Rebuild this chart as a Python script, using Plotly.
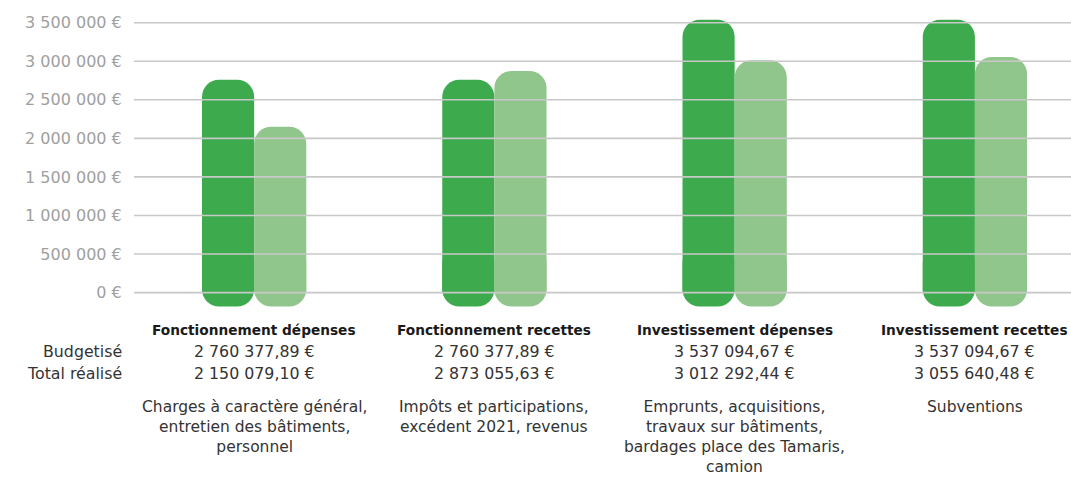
import plotly.graph_objects as go

# ---- data ----
categories = ["Fonctionnement dépenses", "Fonctionnement recettes",
              "Investissement dépenses", "Investissement recettes"]
budgetise = [2760377.89, 2760377.89, 3537094.67, 3537094.67]
realise = [2150079.10, 2873055.63, 3012292.44, 3055640.48]
budget_labels = ["2 760 377,89 €", "2 760 377,89 €", "3 537 094,67 €", "3 537 094,67 €"]
realise_labels = ["2 150 079,10 €", "2 873 055,63 €", "3 012 292,44 €", "3 055 640,48 €"]
descriptions = [
    "Charges à caractère général,<br>entretien des bâtiments,<br>personnel",
    "Impôts et participations,<br>excédent 2021, revenus",
    "Emprunts, acquisitions,<br>travaux sur bâtiments,<br>bardages place des Tamaris,<br>camion",
    "Subventions",
]
row_labels = ["Budgetisé", "Total réalisé"]
tick_vals = [0, 500000, 1000000, 1500000, 2000000, 2500000, 3000000, 3500000]
tick_text = ["0 €", "500 000 €", "1 000 000 €", "1 500 000 €", "2 000 000 €",
             "2 500 000 €", "3 000 000 €", "3 500 000 €"]

# ---- style ----
W, H = 1071, 477
DARK = "#3DAA4D"
LIGHT = "#90C68B"
GRID = "#C8C8C8"
FONT = "DejaVu Sans"
FS = 15.8
FS_D = 15.5
FS_T = 13.7
BAR_W = 0.217
FOOT = 180000          # rounded foot drawn below the zero line
FOOT_TOP = 600000      # foot segment overlaps the bar so the full radius fits
YR = [-200000, 3600000]
M_T, M_B, M_L, M_R = 15, 169, 134, 0
PLOT_H = H - M_T - M_B
xs = list(range(len(categories)))


def py(p):
    """reference pixel row -> paper y"""
    return (H - M_B - p) / PLOT_H


def px(p):
    """reference pixel column -> paper x"""
    return (p - M_L) / (W - M_L - M_R)


fig = go.Figure()
for vals, col, off in [(budgetise, DARK, -BAR_W), (realise, LIGHT, 0.0)]:
    fig.add_bar(x=xs, y=[-(FOOT + FOOT_TOP)] * len(xs), base=[FOOT_TOP] * len(xs),
                width=BAR_W, offset=off, marker_color=col,
                marker_line_width=0, hoverinfo="skip")
    fig.add_bar(x=xs, y=vals, width=BAR_W, offset=off, marker_color=col,
                marker_line_width=0, hoverinfo="skip")

# gridlines drawn above the bars
for v in tick_vals:
    fig.add_shape(type="line", xref="paper", x0=0, x1=1, yref="y", y0=v, y1=v,
                  line=dict(color=GRID, width=1.6), layer="above")

ann = []
for i, c in enumerate(categories):
    ann.append(dict(x=i, y=py(330), xref="x", yref="paper", text="<b>" + c + "</b>",
                    showarrow=False, font=dict(size=FS_T, color="#1a1a1a", family=FONT),
                    yanchor="middle"))
    ann.append(dict(x=i, y=py(351.5), xref="x", yref="paper", text=budget_labels[i],
                    showarrow=False, font=dict(size=FS, color="#333", family=FONT),
                    yanchor="middle"))
    ann.append(dict(x=i, y=py(373), xref="x", yref="paper", text=realise_labels[i],
                    showarrow=False, font=dict(size=FS, color="#333", family=FONT),
                    yanchor="middle"))
    ann.append(dict(x=i, y=py(397), xref="x", yref="paper", text=descriptions[i],
                    showarrow=False, font=dict(size=FS_D, color="#333", family=FONT),
                    yanchor="top", align="center", borderpad=0))
for lbl, p in zip(row_labels, [351.5, 373]):
    ann.append(dict(x=px(123.5), y=py(p), xref="paper", yref="paper",
                    text=lbl, showarrow=False, xanchor="right", yanchor="middle",
                    font=dict(size=FS, color="#333", family=FONT)))

fig.update_layout(
    width=W, height=H,
    margin=dict(t=M_T, b=M_B, l=M_L, r=M_R, pad=0),
    barmode="overlay",
    showlegend=False,
    plot_bgcolor="white", paper_bgcolor="white",
    font=dict(family=FONT),
    xaxis=dict(range=[-0.5, 3.4], showticklabels=False, showgrid=False,
               zeroline=False, showline=False, fixedrange=True),
    yaxis=dict(range=YR, tickvals=tick_vals, ticktext=tick_text, showgrid=False,
               zeroline=False, showline=False, ticks="outside", ticklen=8,
               tickcolor="rgba(0,0,0,0)",
               tickfont=dict(size=16, color="#a0a0a0", family=FONT), fixedrange=True),
    annotations=ann,
    barcornerradius=17,
)

fig.write_html(
    "out.html",
    config={"displayModeBar": False},
    post_script="document.body.style.margin='0';document.body.style.overflow='hidden';",
)
